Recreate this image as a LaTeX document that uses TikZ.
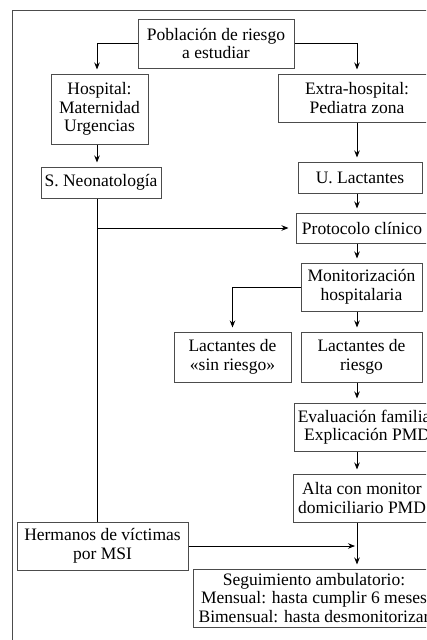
\documentclass[tikz,border=0pt]{standalone}
\usepackage{fontspec}
\setmainfont{Liberation Serif}
\usetikzlibrary{arrows.meta}
\begin{document}
\begin{tikzpicture}[x=1pt,y=-1pt,
  box/.style={draw=black!70, line width=1pt, rectangle, inner sep=0pt, align=center,
    font=\fontsize{17.5}{18.5}\selectfont},
  arr/.style={-{Stealth[length=7pt,width=5.5pt]}, line width=0.9pt, shorten >=4pt},
  ln/.style={line width=0.9pt},
  frame/.style={draw=black!70, line width=1pt}]
\useasboundingbox (0,0) rectangle (426,640);
\clip (0,0) rectangle (426,640);
\draw[frame] (12.3,10) rectangle (470,700);

\node[box, minimum width=156pt, minimum height=49pt] (pob) at (216,43.5) {Población de riesgo\\a estudiar};
\node[box, minimum width=97pt, minimum height=70pt] (hosp) at (99.5,109) {Hospital:\\Maternidad\\Urgencias};
\node[box, minimum width=158pt, minimum height=48pt] (ext) at (357,98) {Extra-hospital:\\Pediatra zona};
\node[box, minimum width=120pt, minimum height=31pt] (neo) at (101,182.5) {S. Neonatología};
\node[box, minimum width=124pt, minimum height=31pt] (ulac) at (360,177.5) {U. Lactantes};
\node[box, minimum width=132pt, minimum height=30pt] (prot) at (362,228) {Protocolo clínico};
\node[box, minimum width=121pt, minimum height=48pt] (mon) at (361.5,287) {Monitorización\\hospitalaria};
\node[box, minimum width=117pt, minimum height=50pt] (lsin) at (232.5,357) {Lactantes de\\«sin riesgo»};
\node[box, minimum width=121pt, minimum height=50pt] (lrie) at (361.5,357) {Lactantes de\\riesgo};
\node[box, minimum width=146pt, minimum height=48pt] (eval) at (367,427) {Evaluación familiar\\Explicación PMD};
\node[box, minimum width=138pt, minimum height=48pt] (alta) at (362,498) {Alta con monitor\\domiciliario PMD};
\node[box, minimum width=171pt, minimum height=48pt] (herm) at (102.5,546) {Hermanos de víctimas\\por MSI};
\node[box, minimum width=242pt, minimum height=58pt] (seg) at (314,598) {Seguimiento ambulatorio:\\Mensual: hasta cumplir 6 meses\\Bimensual: hasta desmonitorizar};

\coordinate (cL) at (97,0);
\coordinate (cR) at (357,0);

\draw[arr] (pob.west) -| (cL |- hosp.north);
\draw[arr] (pob.east) -| (cR |- ext.north);
\draw[arr] (cL |- hosp.south) -- (cL |- neo.north);
\draw[ln] (cL |- neo.south) -- (cL |- herm.north);
\draw[arr, shorten >=7pt] (cL |- prot.west) -- (prot.west);
\draw[arr] (cR |- ext.south) -- (cR |- ulac.north);
\draw[arr] (cR |- ulac.south) -- (cR |- prot.north);
\draw[arr] (cR |- prot.south) -- (cR |- mon.north);
\draw[arr] (mon.west) -| (lsin.north);
\draw[arr] (cR |- mon.south) -- (cR |- lrie.north);
\draw[arr] (cR |- lrie.south) -- (cR |- eval.north);
\draw[arr] (cR |- eval.south) -- (cR |- alta.north);
\draw[arr] (cR |- alta.south) -- (cR |- seg.north);
\draw[arr, shorten >=2pt] (herm.east) -- (cR |- herm.east);
\end{tikzpicture}
\end{document}
